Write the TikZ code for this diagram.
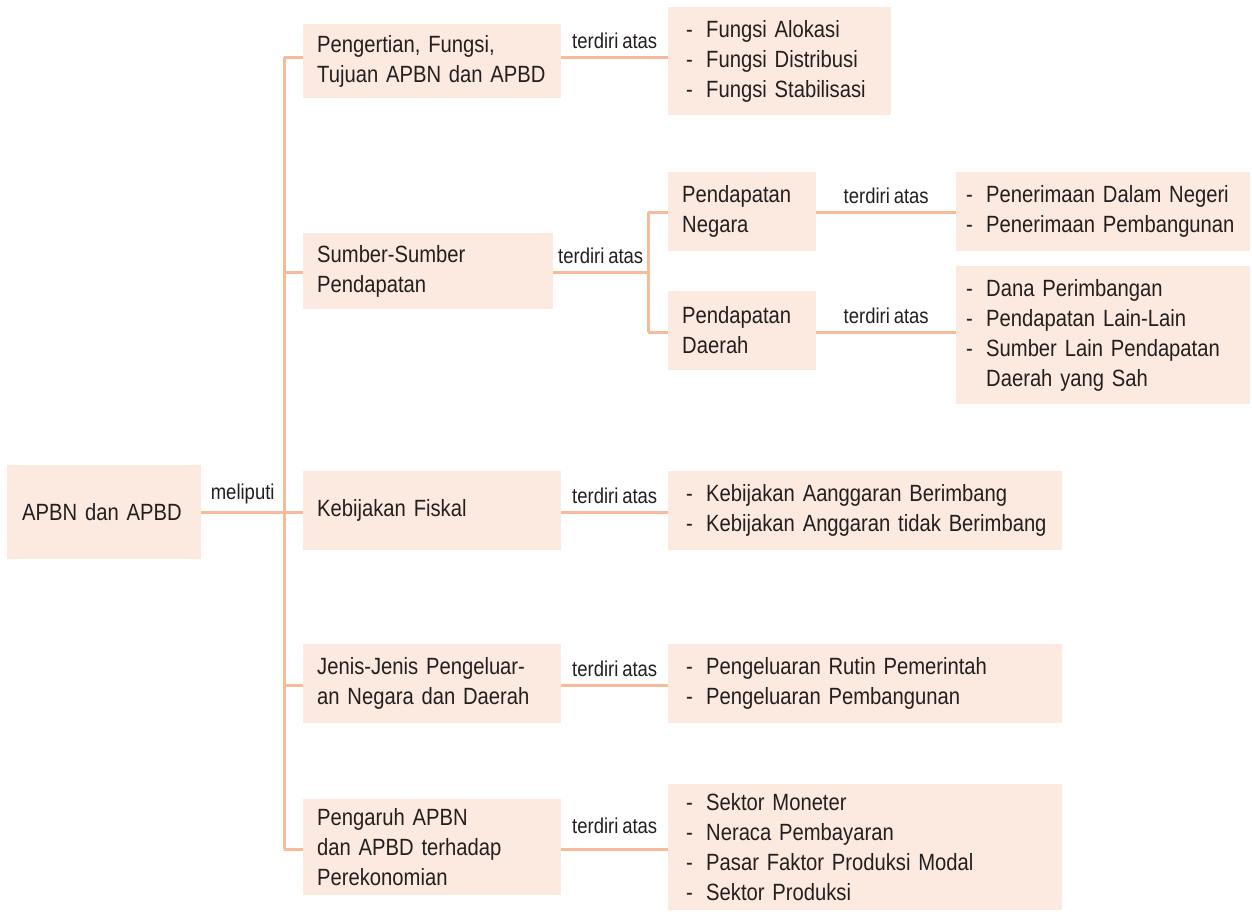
\documentclass[tikz,border=0pt]{standalone}
\usepackage{fontspec}
\setmainfont{Liberation Sans}[FakeStretch=0.86, WordSpace=0.75]
\begin{document}
\hyphenpenalty=10000
\exhyphenpenalty=10000
\definecolor{boxfill}{HTML}{FCEAE0}
\definecolor{linkcol}{HTML}{F9BA9C}
\definecolor{ink}{HTML}{231F20}
\newlength{\itmind}
\newcommand{\itm}[1]{\hspace*{\itmind}\makebox[20pt][l]{-}#1}
\newcommand{\cnt}[1]{\hspace*{\itmind}\hspace*{20pt}#1}
\begin{tikzpicture}[x=1pt,y=-1pt,
  every node/.style={text=ink},
  box/.style={fill=boxfill, anchor=west, align=left, inner xsep=14pt, inner ysep=0pt,
    font=\fontsize{23.5}{30}\selectfont},
  listbox/.style={box, inner xsep=10pt, execute at begin node={\setlength{\itmind}{#1}}},
  listbox/.default=8pt,
  link/.style={draw=linkcol, line width=3pt},
  lbl/.style={font=\fontsize{21.5}{24}\selectfont, above=5pt, inner sep=2pt}]
\useasboundingbox (0,0) rectangle (1252,911);

% root
\node[box, inner xsep=15pt, text width=164pt, minimum height=94pt] (root) at (7,512) {APBN dan APBD};

% first level
\node[box, text width=230pt, minimum height=74pt] (b1) at (303,61) {Pengertian, Fungsi,\\Tujuan APBN dan APBD};
\node[box, text width=222pt, minimum height=76pt] (b2) at (303,271) {Sumber-Sumber\\Pendapatan};
\node[box, text width=230pt, minimum height=79pt] (b3) at (303,510) {Kebijakan Fiskal};
\node[box, text width=230pt, minimum height=79pt] (b4) at (303,683) {Jenis-Jenis Pengeluar-\\an Negara dan Daerah};
\node[box, text width=230pt, minimum height=96pt] (b5) at (303,847) {Pengaruh APBN\\dan APBD terhadap\\Perekonomian};

% second level of the revenue branch
\node[box, text width=120pt, minimum height=79pt] (pn) at (668,211) {Pendapatan\\Negara};
\node[box, text width=120pt, minimum height=79pt] (pd) at (668,330) {Pendapatan\\Daerah};

% lists
\node[listbox, text width=203pt, minimum height=108pt] (r1) at (668,61)
  {\itm{Fungsi Alokasi}\\\itm{Fungsi Distribusi}\\\itm{Fungsi Stabilisasi}};
\node[listbox=0pt, text width=274pt, minimum height=79pt] (rn) at (956,211)
  {\itm{Penerimaan Dalam Negeri}\\\itm{Penerimaan Pembangunan}};
\node[listbox=0pt, text width=274pt, minimum height=138pt] (rd) at (956,335)
  {\itm{Dana Perimbangan}\\\itm{Pendapatan Lain-Lain}\\\itm{Sumber Lain Pendapatan}\\\cnt{Daerah yang Sah}};
\node[listbox, text width=374pt, minimum height=79pt] (r3) at (668,510)
  {\itm{Kebijakan Aanggaran Berimbang}\\\itm{Kebijakan Anggaran tidak Berimbang}};
\node[listbox, text width=374pt, minimum height=79pt] (r4) at (668,683)
  {\itm{Pengeluaran Rutin Pemerintah}\\\itm{Pengeluaran Pembangunan}};
\node[listbox, text width=374pt, minimum height=126pt] (r5) at (668,847)
  {\itm{Sektor Moneter}\\\itm{Neraca Pembayaran}\\\itm{Pasar Faktor Produksi Modal}\\\itm{Sektor Produksi}};

% trunk junctions
\coordinate (t1) at (284,57);
\coordinate (t2) at (284,272);
\coordinate (t3) at (284,512);
\coordinate (t4) at (284,685);
\coordinate (t5) at (284,849);
\coordinate (s1) at (648,212);
\coordinate (s2) at (648,332);
\coordinate (s0) at (648,272);

% connectors
\draw[link] (root.east |- t3) -- (t3) node[lbl, midway] {meliputi};
\draw[link] (t1) -- (t5);
\draw[link] (t1) -- (t1 -| b1.west);
\draw[link] (t2) -- (t2 -| b2.west);
\draw[link] (t3) -- (t3 -| b3.west);
\draw[link] (t4) -- (t4 -| b4.west);
\draw[link] (t5) -- (t5 -| b5.west);

\draw[link] (b1.east |- t1) -- (r1.west |- t1) node[lbl, midway] {terdiri atas};
\draw[link] (b2.east |- s0) -- (s0) node[lbl, midway] {terdiri atas};
\draw[link] (s1) -- (s2);
\draw[link] (s1) -- (s1 -| pn.west);
\draw[link] (s2) -- (s2 -| pd.west);
\draw[link] (pn.east |- s1) -- (rn.west |- s1) node[lbl, midway] {terdiri atas};
\draw[link] (pd.east |- s2) -- (rd.west |- s2) node[lbl, midway] {terdiri atas};
\draw[link] (b3.east |- t3) -- (r3.west |- t3) node[lbl, midway] {terdiri atas};
\draw[link] (b4.east |- t4) -- (r4.west |- t4) node[lbl, midway] {terdiri atas};
\draw[link] (b5.east |- t5) -- (r5.west |- t5) node[lbl, midway, above=7pt] {terdiri atas};
\end{tikzpicture}
\end{document}
